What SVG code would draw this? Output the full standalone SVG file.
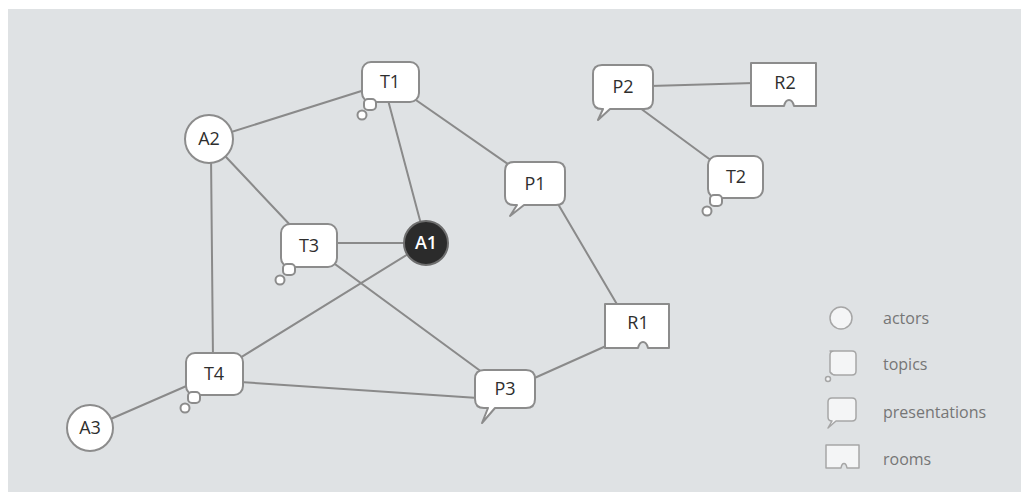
<svg xmlns="http://www.w3.org/2000/svg" width="1021" height="492" viewBox="0 0 1021 492">
  <style>
    .node { fill: #ffffff; stroke: #8c8c8c; stroke-width: 2; stroke-linejoin: round; }
    .actor-dark { fill: #2b2b2b; stroke: #6e6e6e; stroke-width: 2; }
    .label { font-family: "Open Sans", "Liberation Sans", sans-serif; font-size: 18px; fill: #2e2e2e; text-anchor: middle; }
    .label-dark { fill: #ffffff; font-weight: 600; }
    .edge { stroke: #8a8a8a; stroke-width: 2; fill: none; stroke-linecap: round; }
    .legend-text { font-family: "Open Sans", "Liberation Sans", sans-serif; font-size: 16px; fill: #767676; }
    .legend-icon { fill: #f4f5f6; stroke: #a6a6a6; stroke-width: 1.5; stroke-linejoin: round; }
  </style>

  <!-- page and canvas -->
  <rect x="0" y="0" width="1021" height="492" fill="#ffffff"/>
  <rect x="8" y="9" width="1013" height="483" fill="#dfe2e4"/>

  <!-- connectors -->
  <g id="connectors">
    <line class="edge" x1="209" y1="139" x2="390" y2="82"/>
    <line class="edge" x1="388" y1="100" x2="426" y2="243"/>
    <line class="edge" x1="390" y1="82" x2="535" y2="183"/>
    <line class="edge" x1="209" y1="139" x2="309" y2="245"/>
    <line class="edge" x1="211" y1="155" x2="213" y2="360"/>
    <line class="edge" x1="330" y1="243" x2="426" y2="243"/>
    <line class="edge" x1="309" y1="245" x2="505" y2="389"/>
    <line class="edge" x1="426" y1="243" x2="214" y2="374"/>
    <line class="edge" x1="240" y1="382" x2="478" y2="398"/>
    <line class="edge" x1="214" y1="374" x2="90" y2="428"/>
    <line class="edge" x1="558" y1="204" x2="618" y2="306"/>
    <line class="edge" x1="606" y1="346" x2="530" y2="380"/>
    <line class="edge" x1="650" y1="86" x2="754" y2="83"/>
    <line class="edge" x1="640" y1="108" x2="712" y2="161"/>
  </g>

  <!-- actors -->
  <g id="A1">
    <circle class="actor-dark" cx="426" cy="243" r="22"/>
    <text class="label label-dark" x="426" y="249">A1</text>
  </g>
  <g id="A2">
    <circle class="node" cx="209" cy="139" r="24"/>
    <text class="label" x="209" y="145">A2</text>
  </g>
  <g id="A3">
    <circle class="node" cx="90" cy="428" r="23"/>
    <text class="label" x="90" y="434">A3</text>
  </g>

  <!-- topics -->
  <g id="T1">
    <rect class="node" x="362" y="62" width="57" height="40" rx="9"/>
    <rect class="node" x="364" y="99" width="12" height="11" rx="4"/>
    <circle class="node" cx="362" cy="115" r="4.5"/>
    <text class="label" x="390" y="88">T1</text>
  </g>
  <g id="T3">
    <rect class="node" x="281" y="224" width="56" height="43" rx="9"/>
    <rect class="node" x="283" y="264" width="12" height="11" rx="4"/>
    <circle class="node" cx="280" cy="280" r="4.5"/>
    <text class="label" x="309" y="252">T3</text>
  </g>
  <g id="T4">
    <rect class="node" x="186" y="353" width="57" height="42" rx="9"/>
    <rect class="node" x="188" y="392" width="12" height="11" rx="4"/>
    <circle class="node" cx="185" cy="408" r="4.5"/>
    <text class="label" x="214" y="380">T4</text>
  </g>
  <g id="T2">
    <rect class="node" x="708" y="156" width="55" height="42" rx="9"/>
    <rect class="node" x="710" y="195" width="12" height="11" rx="4"/>
    <circle class="node" cx="707" cy="211" r="4.5"/>
    <text class="label" x="736" y="183">T2</text>
  </g>

  <!-- presentations -->
  <g id="P1">
    <path class="node" d="M514,162 H556 Q565,162 565,171 V196 Q565,205 556,205 H524 L510,216 L517,205 H514 Q505,205 505,196 V171 Q505,162 514,162 Z"/>
    <text class="label" x="535" y="190">P1</text>
  </g>
  <g id="P3">
    <path class="node" d="M484,370 H526 Q535,370 535,379 V399 Q535,408 526,408 H495 L482,423 L488,408 H484 Q475,408 475,399 V379 Q475,370 484,370 Z"/>
    <text class="label" x="505" y="395">P3</text>
  </g>
  <g id="P2">
    <path class="node" d="M602,65 H644 Q653,65 653,74 V100 Q653,109 644,109 H610 L598,120 L603,109 H602 Q593,109 593,100 V74 Q593,65 602,65 Z"/>
    <text class="label" x="623" y="93">P2</text>
  </g>

  <!-- rooms -->
  <g id="R1">
    <path class="node" d="M605,304 H669 V348 H648 C646,340 640,340 638,348 H605 Z"/>
    <text class="label" x="638" y="329">R1</text>
  </g>
  <g id="R2">
    <path class="node" d="M751,63 H816 V106 H794 C792,98 786,98 784,106 H751 Z"/>
    <text class="label" x="785" y="89">R2</text>
  </g>

  <!-- legend -->
  <g id="legend">
    <circle class="legend-icon" cx="841" cy="318" r="11"/>
    <text class="legend-text" x="883" y="324">actors</text>
    <path class="legend-icon" d="M830,351 H852 Q856,351 856,355 V371 Q856,375 852,375 H836 Q832,375 830,372 V355 Q830,351 834,351 Z"/>
    <circle class="legend-icon" cx="828" cy="379" r="2.5"/>
    <text class="legend-text" x="883" y="370">topics</text>
    <path class="legend-icon" d="M832,398 H852 Q856,398 856,402 V417 Q856,421 852,421 H836 L828,428 L832,421 Q828,421 828,417 V402 Q828,398 832,398 Z"/>
    <text class="legend-text" x="883" y="418">presentations</text>
    <path class="legend-icon" d="M826,445 H859 V468 H847 C846,462 842,462 841,468 H826 Z"/>
    <text class="legend-text" x="883" y="465">rooms</text>
  </g>
</svg>
